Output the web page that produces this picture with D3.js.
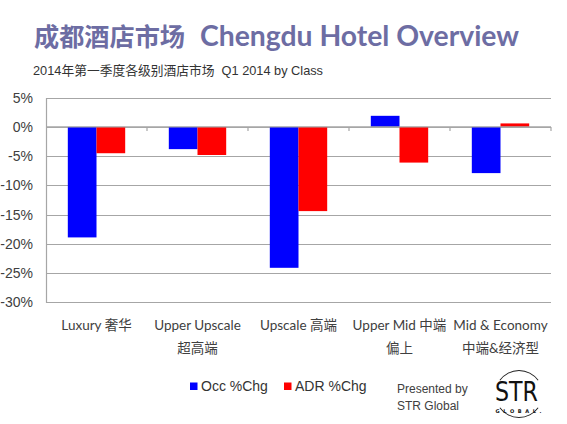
<!DOCTYPE html>
<html><head><meta charset="utf-8">
<script src="https://cdn.jsdelivr.net/npm/d3@7"></script>
<style>
html,body{margin:0;padding:0;background:#fff;}
svg{display:block;}
</style></head>
<body>
<svg id="c" width="567" height="424"></svg>
<script>
const categories = ["Luxury 奢华|", "Upper Upscale|超高端", "Upscale 高端|", "Upper Mid 中端|偏上", "Mid & Economy|中端&经济型"];
const series = ["Occ %Chg", "ADR %Chg"];
const occChg = [-18.9, -3.8, -24.1, 1.9, -7.9];
const adrChg = [-4.5, -4.8, -14.4, -6.1, 0.6];
const yTicks = [5, 0, -5, -10, -15, -20, -25, -30];
const colors = ["#0000FF", "#FF0000"];

(function(){
const svg = d3.select("#c");
const pLeft = 46, pRight = 551, pTop = 97.7, pBottom = 302.3;
const CJK = "'Noto Sans CJK SC'";

// Title
svg.append("text").attr("x", 34).attr("y", 45.5)
  .attr("font-family", CJK).attr("font-weight", "bold").attr("font-size", 25)
  .attr("fill", "#6D6DA3").attr("textLength", 151).attr("lengthAdjust", "spacingAndGlyphs")
  .text("成都酒店市场");
svg.append("text").attr("x", 200).attr("y", 46)
  .attr("font-family", "Lato, 'Open Sans', sans-serif").attr("font-weight", "bold").attr("font-size", 29)
  .attr("fill", "#6D6DA3").attr("textLength", 319).attr("lengthAdjust", "spacingAndGlyphs")
  .text("Chengdu Hotel Overview");
svg.append("text").attr("x", 33).attr("y", 74.5)
  .attr("font-family", "'Liberation Sans', Arial, " + CJK).attr("font-size", 13)
  .attr("fill", "#333").attr("textLength", 290).attr("lengthAdjust", "spacingAndGlyphs")
  .text("2014年第一季度各级别酒店市场\u00a0\u00a0Q1 2014 by Class");

const y = d3.scaleLinear().domain([-30, 5]).range([pBottom, pTop]);
const x0 = d3.scaleBand().domain(categories).range([pLeft, pRight]).paddingInner(0).paddingOuter(0);
const x1 = d3.scaleBand().domain(series).range([0, x0.bandwidth()]).paddingInner(0).paddingOuter(0.76);

// gridlines
svg.append("g").selectAll("line").data(yTicks).join("line")
  .attr("x1", pLeft).attr("x2", pRight)
  .attr("y1", d => Math.round(y(d)) + 0.5).attr("y2", d => Math.round(y(d)) + 0.5)
  .attr("stroke", "#A6A6A6").attr("stroke-width", 1.2);

// y axis
const yAxis = d3.axisLeft(y).tickValues(yTicks).tickFormat(d => d + "%").tickSize(0).tickPadding(13);
const ga = svg.append("g").attr("transform", `translate(${pLeft},0)`).call(yAxis);
ga.select(".domain").attr("stroke", "#A6A6A6").attr("stroke-width", 1.2);
ga.selectAll("text").attr("font-family", "'Liberation Sans', Arial, sans-serif").attr("font-size", 14).attr("fill", "#404040");

// bars
const data = categories.map((c, i) => ({cat: c, vals: [occChg[i], adrChg[i]]}));
const groups = svg.append("g").selectAll("g").data(data).join("g")
  .attr("transform", d => `translate(${x0(d.cat)},0)`);
groups.selectAll("rect").data(d => d.vals.map((v, j) => ({s: series[j], v, j}))).join("rect")
  .attr("x", d => x1(d.s)).attr("width", x1.bandwidth())
  .attr("y", d => y(Math.max(0, d.v))).attr("height", d => Math.abs(y(d.v) - y(0)))
  .attr("fill", d => colors[d.j]);

// zero line and category ticks
svg.append("line").attr("x1", pLeft).attr("x2", pRight).attr("y1", y(0)).attr("y2", y(0))
  .attr("stroke", "#A6A6A6").attr("stroke-width", 1.2);
const bounds = categories.map(c => x0(c) + x0.bandwidth());
svg.append("g").selectAll("line").data(bounds).join("line")
  .attr("x1", d => d).attr("x2", d => d).attr("y1", y(0)).attr("y2", y(0) + 4)
  .attr("stroke", "#A6A6A6").attr("stroke-width", 1.2);

// category labels
const cl = svg.append("g").selectAll("text").data(categories).join("text")
  .attr("x", d => x0(d) + x0.bandwidth() / 2).attr("text-anchor", "middle")
  .attr("font-family", "Lato, " + CJK).attr("font-size", 13.5).attr("fill", "#404040");
cl.append("tspan").attr("x", d => x0(d) + x0.bandwidth() / 2).attr("y", 329.5).text(d => d.split("|")[0]);
cl.append("tspan").attr("x", d => x0(d) + x0.bandwidth() / 2).attr("y", 352.5).text(d => d.split("|")[1]);

// legend
const legX = [190, 284];
const lg = svg.append("g").selectAll("g").data(series).join("g")
  .attr("transform", (d, i) => `translate(${legX[i]},0)`);
lg.append("rect").attr("x", 0).attr("y", 382.5).attr("width", 7.5).attr("height", 7.5).attr("fill", (d, i) => colors[i]);
lg.append("text").attr("x", 11).attr("y", 391).attr("font-family", "'Liberation Sans', Arial, sans-serif")
  .attr("font-size", 14).attr("fill", "#333").text(d => d);

// presented by
svg.append("text").attr("x", 397).attr("y", 393).attr("font-family", "'Liberation Sans', Arial, sans-serif")
  .attr("font-size", 12).attr("fill", "#404040").text("Presented by");
svg.append("text").attr("x", 397).attr("y", 409.5).attr("font-family", "'Liberation Sans', Arial, sans-serif")
  .attr("font-size", 12).attr("fill", "#404040").text("STR Global");

// logo
const logo = svg.append("g").attr("transform", "translate(519,394)");
const arc = d3.arc().innerRadius(23).outerRadius(24);
logo.append("path").attr("d", arc({startAngle: -0.95, endAngle: 0.95})).attr("fill", "#222");
logo.append("path").attr("d", arc({startAngle: Math.PI - 0.95, endAngle: Math.PI + 0.95})).attr("fill", "#222");
logo.append("text").attr("x", -24).attr("y", 7).attr("font-family", "'DejaVu Sans', sans-serif")
  .attr("font-size", 27).attr("fill", "#111").attr("textLength", 43).attr("lengthAdjust", "spacingAndGlyphs").text("STR");
logo.append("text").attr("x", -23.5).attr("y", 19).attr("font-family", "'DejaVu Sans', sans-serif").attr("font-weight", "bold")
  .attr("font-size", 5).attr("fill", "#111").attr("textLength", 46).attr("lengthAdjust", "spacing").text("GLOBAL.");
})();
</script>
</body></html>
